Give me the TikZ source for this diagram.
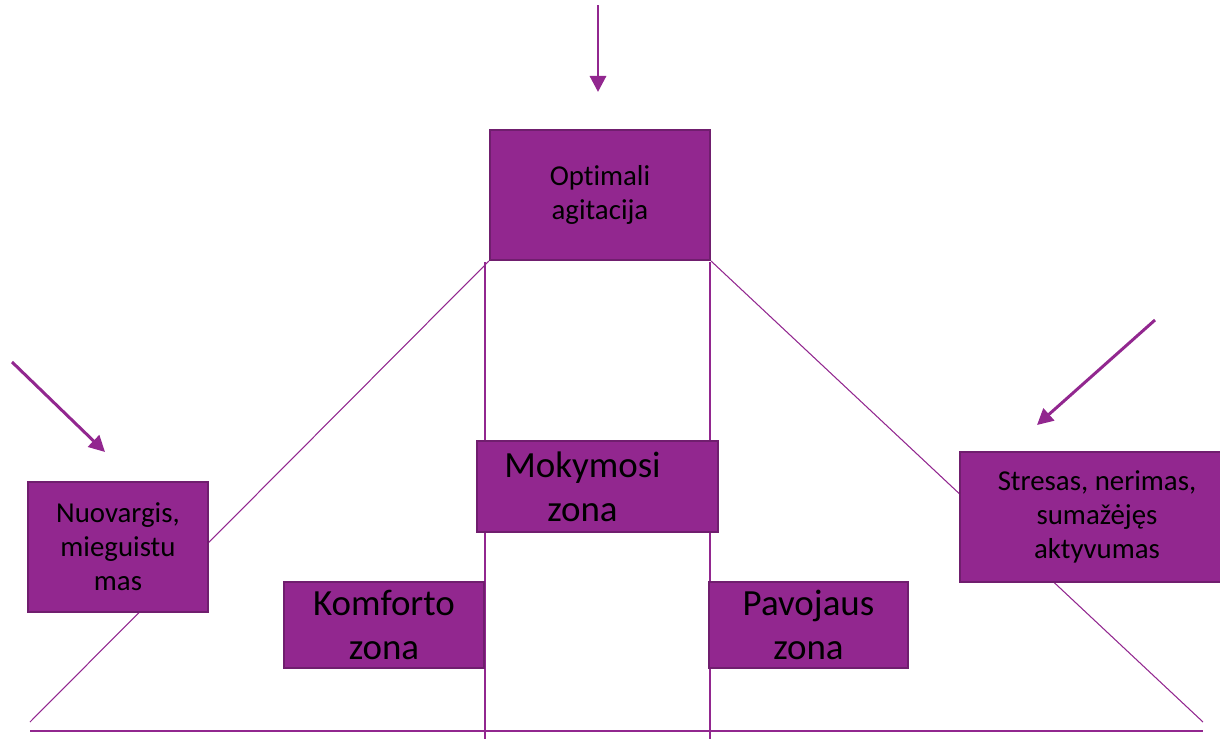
\documentclass[tikz,border=0pt]{standalone}
\usepackage{fontspec}
\setmainfont[Ligatures=NoCommon]{Carlito}
\usetikzlibrary{arrows.meta}
\definecolor{mauve}{RGB}{146,39,143}
\definecolor{mauvedark}{RGB}{112,30,110}
\newcommand{\smalltxt}{\fontsize{8.2}{9.7}\selectfont}
\newcommand{\bigtxt}{\fontsize{10.5}{12.6}\selectfont}

\begin{document}
\begin{tikzpicture}[x=0.01cm,y=-0.01cm,
  zone/.style={draw=mauvedark, line width=0.6pt, fill=mauve, inner sep=0pt, align=center},
  guide/.style={draw=mauve, line width=0.3pt},
  push/.style={draw=mauve, line width=0.85pt, -{Triangle[width=1.6mm,length=1.6mm]}}]
\useasboundingbox (0,0) rectangle (1220,739);
\clip (0,0) rectangle (1220,739);
% free ends
\coordinate (bl) at (30,722);
\coordinate (br) at (1203,722);
\coordinate (a1) at (598,5);   \coordinate (a2) at (598,92);
\coordinate (b1) at (12,362);  \coordinate (b2) at (105,452);
\coordinate (c1) at (1155,320);\coordinate (c2) at (1037,425);
% top box first, lines hang from it
\node[zone, font=\smalltxt, minimum width=2.2cm, minimum height=1.3cm] (opt) at (600,195) {Optimali\\agitacija};
\draw [guide] (opt.south west) -- (bl);
\draw [guide] (opt.south east) -- (br);
\draw [guide] (485,262) -- (485,739);
\draw [guide] (710,262) -- (710,739);
\draw [draw=mauve, line width=0.6pt] (30,731) -- (1203,731);
% zones
\node[zone, minimum width=2.41cm, minimum height=0.91cm] (mok) at (597.5,486.5) {};
\node[align=center, font=\bigtxt] at ([xshift=-0.15cm]mok.center) {Mokymosi\\zona};
\node[zone, font=\bigtxt, minimum width=2.0cm, minimum height=0.86cm] (kom) at (384,625) {Komforto\\zona};
\node[zone, font=\bigtxt, minimum width=1.99cm, minimum height=0.86cm] (pav) at (808.5,625) {Pavojaus\\zona};
\node[zone, font=\smalltxt, minimum width=1.8cm, minimum height=1.3cm] (nuo) at (118,547) {Nuovargis,\\mieguistu\\mas};
\node[zone, font=\smalltxt, minimum width=2.74cm, minimum height=1.3cm] (str) at (1097,517) {Stresas, nerimas,\\suma\v{z}\.{e}j\k{e}s\\aktyvumas};
% arrows
\draw [push] (a1) -- (a2);
\draw [push] (b1) -- (b2);
\draw [push] (c1) -- (c2);
\end{tikzpicture}
\end{document}
